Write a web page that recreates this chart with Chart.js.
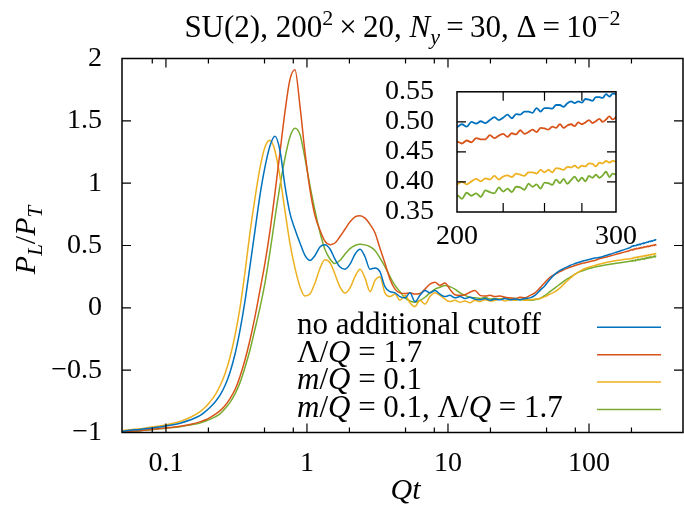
<!DOCTYPE html>
<html>
<head>
<meta charset="utf-8">
<script src="https://cdn.jsdelivr.net/npm/chart.js@4.4.0/dist/chart.umd.min.js"></script>
<style>
  body { margin: 0; background: #fff; }
  #wrap { position: relative; width: 684px; height: 510px; }
  #main { position: absolute; left: 0; top: 0; }
  #inset { position: absolute; left: 380px; top: 60px; }
</style>
</head>
<body>
<div id="wrap">
  <canvas id="main" width="684" height="510"></canvas>
  <canvas id="inset" width="270" height="200"></canvas>
</div>
<script>
// Qt values (shared by all four series)
const qt = [
  // early times
  0.049, 0.0556, 0.0655, 0.0771, 0.0907, 0.107, 0.126, 0.148, 0.174, 0.189,
  0.205, 0.223, 0.242, 0.262, 0.284, 0.309, 0.335, 0.363, 0.394, 0.428,
  0.464, 0.504, 0.547, 0.593, 0.644, 0.698, 0.757, 0.822, 0.892, 0.968,
  1.05, 1.14, 1.24, 1.34, 1.46, 1.58, 1.71, 1.86, 2.02, 2.19,
  2.38, 2.58, 2.8, 3.04, 3.29, 3.57, 3.88, 4.21, 4.57,
  // intermediate times
  4.96, 5.38, 5.83, 6.33, 6.87, 7.45, 8.09, 8.77, 9.52, 10.3,
  11.2, 12.2, 13.2, 14.3, 15.5, 16.9, 18.3, 19.9, 21.5, 23.4,
  25.4, 27.5, 29.9, 32.4, 35.2, 38.2, 41.4, 44.9, 48.8, 52.9,
  57.4, 62.3, 67.6, 73.3, 79.6, 86.3, 93.7, 102, 110, 120,
  130, 141, 153, 166, 180, 195,
  // late times (inset window)
  200, 202.5, 205, 207.5, 210, 212.5, 215, 217.5, 220, 222.5,
  225, 227.5, 230, 232.5, 235, 237.5, 240, 242.5, 245, 247.5,
  250, 252.5, 255, 257.5, 260, 262.5, 265, 267.5, 270, 272.5,
  275, 277.5, 280, 282.5, 285, 287.5, 290, 292.5, 295, 297.5, 300
];

// P_L / P_T, no additional cutoff
const noCutoff = [
  -0.99, -0.982, -0.975, -0.965, -0.955, -0.942, -0.925, -0.9, -0.865, -0.835,
  -0.80, -0.755, -0.70, -0.625, -0.52, -0.37, -0.18, 0.05, 0.33, 0.62,
  0.9, 1.13, 1.3, 1.376, 1.26, 0.98, 0.76, 0.63, 0.52, 0.42,
  0.38, 0.42, 0.49, 0.506, 0.47, 0.39, 0.33, 0.31, 0.35, 0.43,
  0.47, 0.41, 0.31, 0.32, 0.29, 0.17, 0.13, 0.12, 0.09,
  0.08, 0.12, 0.05, 0.10, 0.14, 0.12, 0.14, 0.11, 0.09, 0.10,
  0.08, 0.09, 0.075, 0.085, 0.07, 0.065, 0.075, 0.06, 0.07, 0.065,
  0.075, 0.065, 0.07, 0.065, 0.075, 0.08, 0.10, 0.14, 0.18, 0.23,
  0.27, 0.30, 0.32, 0.34, 0.355, 0.368, 0.38, 0.39, 0.40, 0.405,
  0.418, 0.43, 0.443, 0.456, 0.469, 0.483,
  0.491, 0.496, 0.492, 0.500, 0.497, 0.501, 0.498, 0.503, 0.508, 0.503,
  0.507, 0.512, 0.506, 0.513, 0.512, 0.517, 0.517, 0.515, 0.523, 0.517,
  0.523, 0.523, 0.522, 0.528, 0.528, 0.525, 0.531, 0.534, 0.531, 0.534,
  0.532, 0.538, 0.537, 0.535, 0.541, 0.541, 0.540, 0.546, 0.542, 0.547, 0.546
];

// Lambda/Q = 1.7
const lambdaCut = [
  -0.995, -0.99, -0.985, -0.977, -0.968, -0.96, -0.95, -0.935, -0.915, -0.9,
  -0.88, -0.855, -0.825, -0.785, -0.73, -0.655, -0.55, -0.42, -0.26, -0.07,
  0.14, 0.36, 0.62, 0.92, 1.25, 1.57, 1.83, 1.91, 1.62, 1.25,
  0.95, 0.74, 0.62, 0.535, 0.507, 0.52, 0.57, 0.63, 0.69, 0.73,
  0.739, 0.72, 0.67, 0.6, 0.48, 0.36, 0.23, 0.15, 0.12,
  0.115, 0.12, 0.11, 0.115, 0.15, 0.19, 0.205, 0.18, 0.2, 0.15,
  0.105, 0.10, 0.105, 0.125, 0.14, 0.10, 0.095, 0.10, 0.09, 0.095,
  0.085, 0.08, 0.075, 0.085, 0.08, 0.10, 0.12, 0.16, 0.205, 0.245,
  0.27, 0.29, 0.31, 0.325, 0.34, 0.352, 0.362, 0.372, 0.38, 0.395,
  0.405, 0.416, 0.427, 0.438, 0.449, 0.46,
  0.467, 0.464, 0.469, 0.466, 0.473, 0.471, 0.471, 0.478, 0.473, 0.477,
  0.480, 0.475, 0.481, 0.479, 0.486, 0.480, 0.483, 0.487, 0.483, 0.490,
  0.489, 0.487, 0.492, 0.490, 0.496, 0.490, 0.494, 0.496, 0.493, 0.499,
  0.496, 0.499, 0.503, 0.498, 0.501, 0.505, 0.500, 0.504, 0.509, 0.504, 0.508
];

// m/Q = 0.1
const massReg = [
  -0.985, -0.978, -0.97, -0.958, -0.947, -0.932, -0.912, -0.88, -0.835, -0.80,
  -0.755, -0.70, -0.625, -0.53, -0.40, -0.22, 0.0, 0.28, 0.6, 0.88,
  1.12, 1.29, 1.344, 1.26, 1.05, 0.78, 0.52, 0.32, 0.17, 0.095,
  0.11, 0.2, 0.32, 0.386, 0.36, 0.27, 0.17, 0.118, 0.16, 0.25,
  0.31, 0.24, 0.13, 0.22, 0.25, 0.12, 0.09, 0.11, 0.06,
  0.10, 0.04, 0.01, 0.06, 0.03, 0.09, 0.12, 0.10, 0.07, 0.05,
  0.06, 0.045, 0.055, 0.04, 0.06, 0.05, 0.065, 0.055, 0.06, 0.07,
  0.055, 0.065, 0.06, 0.07, 0.06, 0.065, 0.07, 0.075, 0.09, 0.11,
  0.13, 0.16, 0.2, 0.235, 0.27, 0.295, 0.315, 0.33, 0.34, 0.352,
  0.362, 0.37, 0.377, 0.383, 0.389, 0.394,
  0.396, 0.400, 0.396, 0.401, 0.405, 0.401, 0.406, 0.404, 0.410, 0.404,
  0.409, 0.411, 0.408, 0.414, 0.412, 0.410, 0.416, 0.416, 0.414, 0.420,
  0.416, 0.420, 0.416, 0.423, 0.422, 0.420, 0.425, 0.424, 0.427, 0.423,
  0.427, 0.426, 0.431, 0.430, 0.426, 0.432, 0.431, 0.435, 0.432, 0.435, 0.434
];

// m/Q = 0.1, Lambda/Q = 1.7
const massLambda = [
  -0.995, -0.99, -0.985, -0.978, -0.97, -0.962, -0.953, -0.94, -0.925, -0.91,
  -0.895, -0.875, -0.85, -0.81, -0.76, -0.69, -0.60, -0.48, -0.34, -0.17,
  0.0, 0.2, 0.45, 0.72, 0.98, 1.2, 1.37, 1.44, 1.39, 1.2,
  0.98, 0.78, 0.6, 0.47, 0.39, 0.355, 0.38, 0.43, 0.475, 0.5,
  0.51, 0.505, 0.49, 0.46, 0.4, 0.33, 0.25, 0.18, 0.13,
  0.08, 0.055, 0.045, 0.06, 0.085, 0.12, 0.15, 0.165, 0.18, 0.17,
  0.15, 0.12, 0.10, 0.085, 0.08, 0.075, 0.085, 0.07, 0.075, 0.07,
  0.08, 0.07, 0.075, 0.065, 0.07, 0.06, 0.065, 0.075, 0.10, 0.13,
  0.16, 0.19, 0.22, 0.245, 0.27, 0.29, 0.305, 0.318, 0.328, 0.336,
  0.343, 0.35, 0.356, 0.362, 0.368, 0.373,
  0.378, 0.372, 0.382, 0.377, 0.381, 0.375, 0.386, 0.383, 0.381, 0.391,
  0.384, 0.389, 0.383, 0.392, 0.391, 0.387, 0.397, 0.392, 0.396, 0.389,
  0.399, 0.398, 0.395, 0.404, 0.398, 0.405, 0.397, 0.403, 0.409, 0.401,
  0.407, 0.401, 0.410, 0.407, 0.412, 0.407, 0.411, 0.417, 0.408, 0.414, 0.412
];

const xMajor = [0.1, 1, 10, 100];
const xMinor = [0.08, 0.2, 0.5, 0.8, 2, 5, 8, 20, 50, 80, 200];
const yMajor = [-1, -0.5, 0, 0.5, 1, 1.5, 2];
const insetX = [200, 300];
const insetXMinor = [225, 250, 275];
const insetY = [0.35, 0.40, 0.45, 0.50, 0.55];

const series = [
  { data: noCutoff, color: '#0072bd', label: [['no additional cutoff', 'r']] },
  { data: lambdaCut, color: '#d95319', label: [['Λ/', 'r'], ['Q', 'i'], [' = 1.7', 'r']] },
  { data: massReg, color: '#edb120', label: [['m', 'i'], ['/', 'r'], ['Q', 'i'], [' = 0.1', 'r']] },
  { data: massLambda, color: '#77ac30', label: [['m', 'i'], ['/', 'r'], ['Q', 'i'], [' = 0.1, Λ/', 'r'], ['Q', 'i'], [' = 1.7', 'r']] }
];

const SERIF = '"Liberation Serif", "Times New Roman", serif';
const FS = 28;

function fontFor(st, size) {
  const small = Math.round(size * 0.7);
  if (st === 'i') return 'italic ' + size + 'px ' + SERIF;
  if (st === 'sup') return small + 'px ' + SERIF;
  if (st === 'sub') return 'italic ' + small + 'px ' + SERIF;
  return size + 'px ' + SERIF;
}

function drawRich(ctx, parts, x, y, size, align) {
  let w = 0;
  for (const [txt, st] of parts) { ctx.font = fontFor(st, size); w += ctx.measureText(txt).width; }
  let cx = align === 'center' ? x - w / 2 : x;
  ctx.textAlign = 'left';
  ctx.textBaseline = 'alphabetic';
  for (const [txt, st] of parts) {
    ctx.font = fontFor(st, size);
    const dy = st === 'sup' ? -size * 0.4 : st === 'sub' ? size * 0.22 : 0;
    ctx.fillText(txt, cx, y + dy);
    cx += ctx.measureText(txt).width;
  }
}

function makeSets(width) {
  return series.map(s => ({
    data: qt.map((t, i) => ({ x: t, y: s.data[i] })),
    borderColor: s.color,
    borderWidth: width,
    pointRadius: 0,
    fill: false,
    cubicInterpolationMode: 'monotone'
  }));
}

function drawTicks(ctx, a, xs, ys, xlen, ylen, xScale, yScale) {
  ctx.beginPath();
  for (const v of xs) {
    const px = xScale.getPixelForValue(v);
    ctx.moveTo(px, a.bottom); ctx.lineTo(px, a.bottom - xlen);
    ctx.moveTo(px, a.top); ctx.lineTo(px, a.top + xlen);
  }
  for (const v of ys) {
    const py = yScale.getPixelForValue(v);
    ctx.moveTo(a.left, py); ctx.lineTo(a.left + ylen, py);
    ctx.moveTo(a.right, py); ctx.lineTo(a.right - ylen, py);
  }
  ctx.stroke();
}

const tickFont = { family: SERIF, size: FS };

const mainDecor = {
  id: 'mainDecor',
  afterDraw(chart) {
    const { ctx, chartArea: a, scales } = chart;
    ctx.save();
    ctx.strokeStyle = '#000';
    ctx.lineWidth = 1.2;
    drawTicks(ctx, a, xMajor, yMajor, 9, 9, scales.x, scales.y);
    drawTicks(ctx, a, xMinor, [], 5, 0, scales.x, scales.y);
    ctx.lineWidth = 1.5;
    ctx.strokeRect(a.left, a.top, a.right - a.left, a.bottom - a.top);

    ctx.fillStyle = '#000';
    const cx = (a.left + a.right) / 2;
    drawRich(ctx, [['SU(2), 200', 'r'], ['2', 'sup'], ['\u2009×\u200920, ', 'r'], ['N', 'i'], ['y', 'sub'],
      ['\u2009=\u200930, Δ\u2009=\u200910', 'r'], ['−2', 'sup']], cx, 37, 31, 'center');
    drawRich(ctx, [['Qt', 'i']], cx + 3, 499, 30, 'center');

    ctx.save();
    ctx.translate(35, 240);
    ctx.rotate(-Math.PI / 2);
    drawRich(ctx, [['P', 'i'], ['L', 'sub'], ['/', 'r'], ['P', 'i'], ['T', 'sub']], 0, 0, 30, 'center');
    ctx.restore();

    // legend
    series.forEach((s, i) => {
      const ly = 327.3 + i * 27.4;
      ctx.fillStyle = '#000';
      drawRich(ctx, s.label, 297, ly + 7, 31, 'left');
      ctx.strokeStyle = s.color;
      ctx.lineWidth = 1.5;
      ctx.beginPath();
      ctx.moveTo(597, ly); ctx.lineTo(661, ly);
      ctx.stroke();
    });
    ctx.restore();
  }
};

new Chart(document.getElementById('main'), {
  type: 'line',
  data: { datasets: makeSets(1.5) },
  plugins: [mainDecor],
  options: {
    responsive: false,
    animation: false,
    devicePixelRatio: 1,
    layout: { padding: { top: 58.5, right: 1, left: 0, bottom: 0 } },
    plugins: { legend: { display: false }, title: { display: false }, tooltip: { enabled: false } },
    scales: {
      x: {
        type: 'logarithmic',
        min: 0.0488,
        max: 464,
        grid: { display: false },
        border: { display: false },
        afterBuildTicks: s => { s.ticks = xMajor.map(v => ({ value: v })); },
        afterFit: s => { s.height = 77.5; },
        ticks: { autoSkip: false, maxRotation: 0, padding: 6, color: '#000', font: tickFont,
          callback: v => String(v) }
      },
      y: {
        min: -1,
        max: 2,
        grid: { display: false },
        border: { display: false },
        afterBuildTicks: s => { s.ticks = yMajor.map(v => ({ value: v })); },
        afterFit: s => { s.width = 122; },
        ticks: { autoSkip: false, padding: 12, color: '#000', font: tickFont,
          callback: v => (v < 0 ? '−' + Math.abs(v) : String(v)) }
      }
    }
  }
});

const insetDecor = {
  id: 'insetDecor',
  afterDraw(chart) {
    const { ctx, chartArea: a, scales } = chart;
    ctx.save();
    ctx.strokeStyle = '#000';
    ctx.lineWidth = 1.2;
    drawTicks(ctx, a, insetXMinor, [0.40, 0.45, 0.50], 9, 9, scales.x, scales.y);
    ctx.lineWidth = 1.5;
    ctx.strokeRect(a.left, a.top, a.right - a.left, a.bottom - a.top);
    ctx.restore();
  }
};

new Chart(document.getElementById('inset'), {
  type: 'line',
  data: { datasets: makeSets(1.8) },
  plugins: [insetDecor],
  options: {
    responsive: false,
    animation: false,
    devicePixelRatio: 1,
    layout: { padding: { top: 31, right: 34, left: 0, bottom: 0 } },
    plugins: { legend: { display: false }, title: { display: false }, tooltip: { enabled: false } },
    scales: {
      x: {
        type: 'logarithmic',
        min: 200,
        max: 300,
        grid: { display: false },
        border: { display: false },
        afterBuildTicks: s => { s.ticks = insetX.map(v => ({ value: v })); },
        afterFit: s => { s.height = 48; },
        ticks: { autoSkip: false, maxRotation: 0, padding: 0, color: '#000', font: tickFont,
          callback: v => String(v) }
      },
      y: {
        min: 0.35,
        max: 0.55,
        grid: { display: false },
        border: { display: false },
        afterBuildTicks: s => { s.ticks = insetY.map(v => ({ value: v })); },
        afterFit: s => { s.width = 77; },
        ticks: { autoSkip: false, padding: 15, color: '#000', font: tickFont,
          callback: v => v.toFixed(2) }
      }
    }
  }
});
</script>
</body>
</html>
